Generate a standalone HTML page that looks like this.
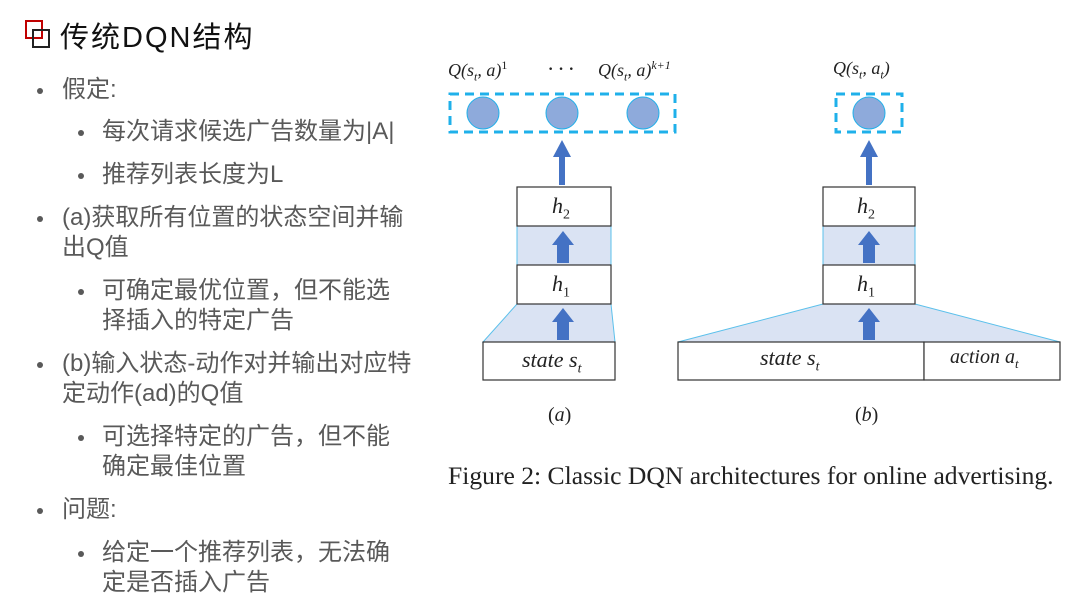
<!DOCTYPE html>
<html><head><meta charset="utf-8"><style>
body{margin:0;width:1080px;height:608px;background:#fff;position:relative;overflow:hidden;font-family:"Liberation Sans","Noto Sans CJK SC",sans-serif}
.t{position:absolute;white-space:nowrap;font-size:24px;color:#595959;line-height:30px}
.d{position:absolute;width:6px;height:6px;border-radius:50%;background:#595959}
.m{position:absolute;white-space:nowrap;font-family:"Liberation Serif",serif;font-style:italic;color:#222}
</style></head><body>
<div style="position:absolute;left:25px;top:20px;width:14px;height:15px;border:2px solid #c00000"></div>
<div style="position:absolute;left:32px;top:29px;width:14px;height:15px;border:2px solid #222"></div>
<div class="t" style="left:60px;top:21px;font-size:29px;color:#111;letter-spacing:2px;line-height:34px">传统DQN结构</div>

<div class="d" style="left:37px;top:88px"></div><div class="t" style="left:62px;top:75px">假定:</div>
<div class="d" style="left:78px;top:130px"></div><div class="t" style="left:102px;top:117px">每次请求候选广告数量为|A|</div>
<div class="d" style="left:78px;top:173px"></div><div class="t" style="left:102px;top:160px">推荐列表长度为L</div>
<div class="d" style="left:37px;top:216px"></div><div class="t" style="left:62px;top:203px">(a)获取所有位置的状态空间并输</div>
<div class="t" style="left:62px;top:233px">出Q值</div>
<div class="d" style="left:78px;top:289px"></div><div class="t" style="left:102px;top:276px">可确定最优位置，但不能选</div>
<div class="t" style="left:102px;top:306px">择插入的特定广告</div>
<div class="d" style="left:37px;top:362px"></div><div class="t" style="left:62px;top:349px">(b)输入状态-动作对并输出对应特</div>
<div class="t" style="left:62px;top:379px">定动作(ad)的Q值</div>
<div class="d" style="left:78px;top:435px"></div><div class="t" style="left:102px;top:422px">可选择特定的广告，但不能</div>
<div class="t" style="left:102px;top:452px">确定最佳位置</div>
<div class="d" style="left:37px;top:508px"></div><div class="t" style="left:62px;top:495px">问题:</div>
<div class="d" style="left:78px;top:551px"></div><div class="t" style="left:102px;top:538px">给定一个推荐列表，无法确</div>
<div class="t" style="left:102px;top:568px">定是否插入广告</div>

<svg style="position:absolute;left:0;top:0" width="1080" height="608">
<defs>
<g id="ba"><rect x="-6" y="-20" width="12" height="20" fill="#4472c4"/><polygon points="-11,-18 11,-18 0,-32" fill="#4472c4"/></g>
</defs>
<rect x="450" y="94" width="225" height="38" fill="none" stroke="#1fb0ea" stroke-width="3" stroke-dasharray="9,6"/>
<g fill="#8eaadb" stroke="#1fb0ea" stroke-width="1"><ellipse cx="483" cy="113" rx="16" ry="16"/><ellipse cx="562" cy="113" rx="16" ry="16"/><ellipse cx="643" cy="113" rx="16" ry="16"/></g>
<rect x="559" y="155" width="6" height="30" fill="#4472c4"/><polygon points="553,157 571,157 562,140" fill="#4472c4"/>
<rect x="517" y="226" width="94" height="39" fill="#dae3f3" stroke="#5bc0eb" stroke-width="1"/>
<polygon points="517,304 611,304 615,342 483,342" fill="#dae3f3" stroke="#5bc0eb" stroke-width="1"/>
<rect x="517" y="187" width="94" height="39" fill="#fff" stroke="#333" stroke-width="1.2"/>
<rect x="517" y="265" width="94" height="39" fill="#fff" stroke="#333" stroke-width="1.2"/>
<rect x="483" y="342" width="132" height="38" fill="#fff" stroke="#333" stroke-width="1.2"/>
<use href="#ba" x="563" y="263"/><use href="#ba" x="563" y="340"/>
<rect x="836" y="94" width="66" height="38" fill="none" stroke="#1fb0ea" stroke-width="3" stroke-dasharray="9,6"/>
<ellipse cx="869" cy="113" rx="16" ry="16" fill="#8eaadb" stroke="#1fb0ea"/>
<rect x="866" y="155" width="6" height="30" fill="#4472c4"/><polygon points="860,157 878,157 869,140" fill="#4472c4"/>
<rect x="823" y="226" width="92" height="39" fill="#dae3f3" stroke="#5bc0eb" stroke-width="1"/>
<polygon points="823,304 915,304 1060,342 678,342" fill="#dae3f3" stroke="#5bc0eb" stroke-width="1"/>
<rect x="823" y="187" width="92" height="39" fill="#fff" stroke="#333" stroke-width="1.2"/>
<rect x="823" y="265" width="92" height="39" fill="#fff" stroke="#333" stroke-width="1.2"/>
<rect x="678" y="342" width="246" height="38" fill="#fff" stroke="#333" stroke-width="1.2"/>
<rect x="924" y="342" width="136" height="38" fill="#fff" stroke="#333" stroke-width="1.2"/>
<use href="#ba" x="869" y="263"/><use href="#ba" x="869" y="340"/>
</svg>

<div class="m" style="left:448px;top:58px;font-size:18px">Q(s<sub style="font-size:12px">t</sub>, a)<sup style="font-size:12px;font-style:normal">1</sup></div>
<div class="m" style="left:547px;top:56px;font-size:22px;font-style:normal;letter-spacing:3px">···</div>
<div class="m" style="left:598px;top:58px;font-size:18px">Q(s<sub style="font-size:12px">t</sub>, a)<sup style="font-size:12px">k+1</sup></div>
<div class="m" style="left:833px;top:58px;font-size:18px">Q(s<sub style="font-size:12px">t</sub>, a<sub style="font-size:12px">t</sub>)</div>
<div class="m" style="left:552px;top:193px;font-size:22px">h<sub style="font-size:14px;font-style:normal">2</sub></div>
<div class="m" style="left:552px;top:271px;font-size:22px">h<sub style="font-size:14px;font-style:normal">1</sub></div>
<div class="m" style="left:857px;top:193px;font-size:22px">h<sub style="font-size:14px;font-style:normal">2</sub></div>
<div class="m" style="left:857px;top:271px;font-size:22px">h<sub style="font-size:14px;font-style:normal">1</sub></div>
<div class="m" style="left:522px;top:347px;font-size:22px">state s<sub style="font-size:14px">t</sub></div>
<div class="m" style="left:760px;top:345px;font-size:22px">state s<sub style="font-size:14px">t</sub></div>
<div class="m" style="left:950px;top:346px;font-size:20px">action a<sub style="font-size:13px">t</sub></div>
<div class="m" style="left:548px;top:404px;font-size:20px;font-style:normal">(<i>a</i>)</div>
<div class="m" style="left:855px;top:404px;font-size:20px;font-style:normal">(<i>b</i>)</div>
<div class="m" style="left:448px;top:461px;font-size:25.6px;font-style:normal">Figure 2: Classic DQN architectures for online advertising.</div>
</body></html>
